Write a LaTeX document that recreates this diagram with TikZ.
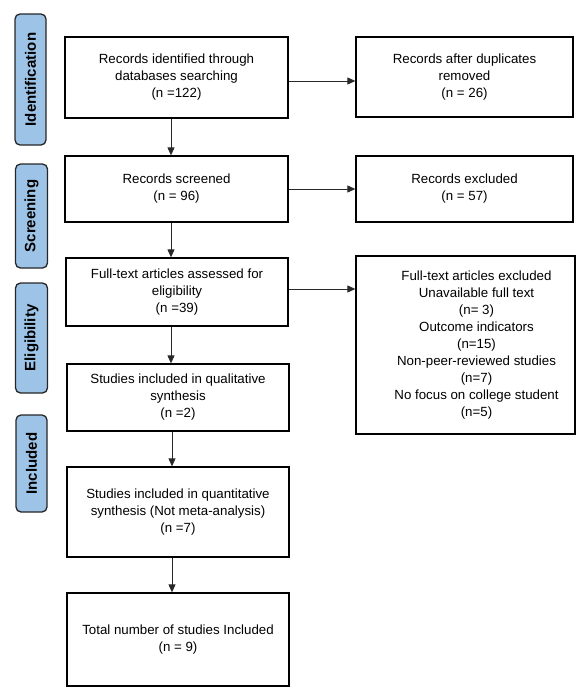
\documentclass[tikz,border=0pt]{standalone}
\usepackage{fontspec}
\setmainfont{Liberation Sans}
\usetikzlibrary{arrows.meta}
\definecolor{sideblue}{RGB}{157,195,230}
\definecolor{linegray}{RGB}{40,40,40}
\begin{document}
\begin{tikzpicture}[x=1pt,y=-1pt,
  box/.style={draw=black, line width=1.3pt, fill=white, inner sep=0pt, align=center,
    font=\fontsize{13.3}{17}\selectfont},
  txt/.style={inner sep=0pt, align=center, font=\fontsize{13.3}{17}\selectfont},
  side/.style={draw=black!85, line width=1.3pt, fill=sideblue, rounded corners=5pt,
    minimum width=32pt, inner sep=0pt, rotate=90, font=\fontsize{15}{18}\selectfont\bfseries},
  arr/.style={draw=linegray, line width=0.9pt, -{Triangle[length=8pt,width=7pt]}}]
\useasboundingbox (0,0) rectangle (588,691);

% side labels
\node[side, minimum width=131pt, minimum height=31pt] (sid) at (30.5,79.5) {Identification};
\node[side, minimum width=104pt, minimum height=32pt] (ssc) at (31.5,216) {Screening};
\node[side, minimum width=110pt, minimum height=32pt] (sel) at (31.5,338) {Eligibility};
\node[side, minimum width=97pt, minimum height=31pt] (sin) at (31.5,463.5) {Included};

% boxes
\node[box, minimum width=223pt, minimum height=81pt] (b1) at (176.5,77.5)
  {Records identified through\\databases searching\\(n =122)};
\node[box, minimum width=217pt, minimum height=80pt] (b2) at (464.5,77)
  {Records after duplicates\\removed\\(n = 26)};
\node[box, minimum width=223pt, minimum height=66pt] (b3) at (176.5,189)
  {Records screened\\(n = 96)};
\node[box, minimum width=217pt, minimum height=66pt] (b4) at (464.5,189)
  {Records excluded\\(n = 57)};
\node[box, minimum width=222pt, minimum height=68pt] (b5) at (177,292)
  {Full-text articles assessed for\\eligibility\\(n =39)};
\node[box, minimum width=219pt, minimum height=178pt] (b6) at (465.5,345) {};
\node[txt] (b6t) at ([xshift=11pt]b6.center)
  {Full-text articles excluded\\Unavailable full text\\(n= 3)\\Outcome indicators\\(n=15)\\Non-peer-reviewed studies\\(n=7)\\No focus on college student\\(n=5)};
\node[box, minimum width=222pt, minimum height=67pt] (b7) at (178,397.5)
  {Studies included in qualitative\\synthesis\\(n =2)};
\node[box, minimum width=222pt, minimum height=90pt] (b8) at (178,512)
  {Studies included in quantitative\\synthesis (Not meta-analysis)\\(n =7)};
\node[box, minimum width=222pt, minimum height=93pt] (b9) at (178,639.5)
  {Total number of studies Included\\(n = 9)};

% horizontal arrows
\draw[arr] ([yshift=-3.5pt]b1.east) -- ([yshift=-3.5pt]b1.east -| b2.west);
\draw[arr] (b3.east) -- (b3.east -| b4.west);
\draw[arr] ([yshift=3pt]b5.east) -- ([yshift=3pt]b5.east -| b6.west);

% vertical arrows
\draw[arr] ([xshift=-5.5pt]b1.south) -- ([xshift=-5.5pt]b1.south |- b3.north);
\draw[arr] ([xshift=-5.5pt]b3.south) -- ([xshift=-5.5pt]b3.south |- b5.north);
\draw[arr] ([xshift=-6pt]b5.south) -- ([xshift=-6pt]b5.south |- b7.north);
\draw[arr] ([xshift=-6pt]b7.south) -- ([xshift=-6pt]b7.south |- b8.north);
\draw[arr] ([xshift=-6pt]b8.south) -- ([xshift=-6pt]b8.south |- b9.north);
\end{tikzpicture}
\end{document}
